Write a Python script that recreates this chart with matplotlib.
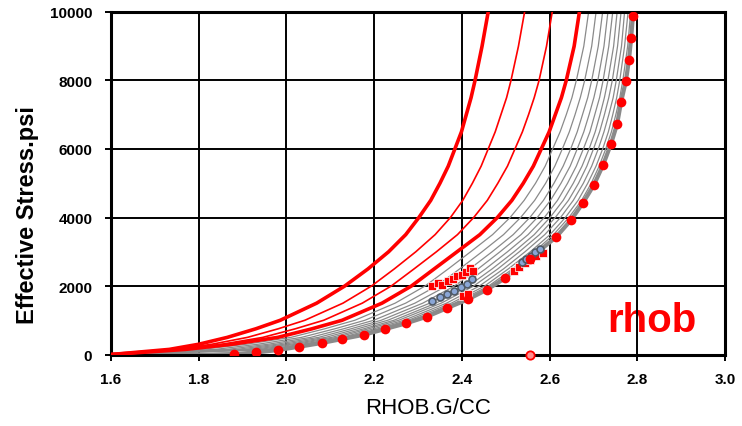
import matplotlib
matplotlib.use('Agg')
import matplotlib.pyplot as plt

# effective stress (psi) at which each model curve is read
STRESS = [0, 150, 300, 500, 750, 1000, 1500, 2000, 2500, 3000, 3500, 4000, 4500, 5000, 5500,
          6000, 6500, 7000, 7500, 8000, 9000, 10000]

RED_THICK_1 = [1.6, 1.733, 1.800, 1.865, 1.930, 1.986, 2.069, 2.133, 2.186, 2.233, 2.272, 2.302, 2.329, 2.350, 2.369,
               2.384, 2.399, 2.410, 2.421, 2.430, 2.446, 2.460]
RED_THIN_1 = [1.6, 1.748, 1.830, 1.911, 1.981, 2.042, 2.129, 2.194, 2.246, 2.295, 2.339, 2.374, 2.402, 2.424, 2.444,
              2.460, 2.476, 2.489, 2.502, 2.512, 2.529, 2.543]
RED_THIN_2 = [1.6, 1.759, 1.853, 1.946, 2.020, 2.085, 2.173, 2.239, 2.291, 2.342, 2.390, 2.427, 2.458, 2.482, 2.504,
              2.521, 2.538, 2.552, 2.565, 2.576, 2.593, 2.606]
RED_THICK_2 = [1.6, 1.770, 1.876, 1.980, 2.058, 2.127, 2.218, 2.285, 2.337, 2.389, 2.441, 2.481, 2.514, 2.540, 2.563,
               2.581, 2.599, 2.613, 2.627, 2.638, 2.656, 2.668]

GRAY_CURVES = [
    [1.6, 1.807, 1.908, 2.010, 2.087, 2.156, 2.248, 2.316, 2.369, 2.420, 2.470, 2.510, 2.542, 2.568, 2.590,
     2.607, 2.624, 2.638, 2.651, 2.661, 2.678, 2.689],
    [1.6, 1.838, 1.935, 2.034, 2.110, 2.179, 2.272, 2.342, 2.395, 2.446, 2.495, 2.534, 2.566, 2.591, 2.612,
     2.629, 2.645, 2.658, 2.670, 2.680, 2.696, 2.706],
    [1.6, 1.865, 1.958, 2.055, 2.130, 2.199, 2.293, 2.365, 2.418, 2.469, 2.517, 2.555, 2.586, 2.610, 2.631,
     2.648, 2.663, 2.675, 2.687, 2.696, 2.711, 2.721],
    [1.6, 1.887, 1.977, 2.073, 2.147, 2.216, 2.311, 2.383, 2.437, 2.487, 2.535, 2.572, 2.602, 2.626, 2.647,
     2.663, 2.678, 2.690, 2.701, 2.710, 2.724, 2.733],
    [1.6, 1.906, 1.994, 2.089, 2.162, 2.231, 2.327, 2.400, 2.454, 2.504, 2.551, 2.588, 2.618, 2.641, 2.661,
     2.677, 2.692, 2.703, 2.714, 2.722, 2.735, 2.744],
    [1.6, 1.924, 2.009, 2.103, 2.176, 2.245, 2.341, 2.415, 2.469, 2.519, 2.565, 2.601, 2.631, 2.654, 2.674,
     2.690, 2.704, 2.715, 2.725, 2.733, 2.746, 2.754],
    [1.6, 1.939, 2.022, 2.115, 2.187, 2.256, 2.353, 2.427, 2.482, 2.531, 2.577, 2.613, 2.643, 2.666, 2.685,
     2.700, 2.714, 2.725, 2.735, 2.743, 2.755, 2.763],
    [1.6, 1.955, 2.036, 2.127, 2.199, 2.268, 2.365, 2.440, 2.495, 2.544, 2.589, 2.625, 2.654, 2.677, 2.696,
     2.711, 2.724, 2.735, 2.745, 2.752, 2.764, 2.771],
    [1.6, 1.968, 2.047, 2.138, 2.209, 2.278, 2.376, 2.452, 2.506, 2.556, 2.601, 2.636, 2.665, 2.687, 2.706,
     2.721, 2.734, 2.744, 2.753, 2.760, 2.771, 2.779],
    [1.6, 1.979, 2.057, 2.146, 2.218, 2.287, 2.384, 2.461, 2.516, 2.565, 2.609, 2.644, 2.673, 2.695, 2.713,
     2.728, 2.741, 2.751, 2.760, 2.767, 2.778, 2.785],
]

# normal compaction trend (red dots on the thick grey line)
NCT_RHO = [1.6, 1.833, 1.881, 1.931, 1.980, 2.029, 2.080, 2.127, 2.177, 2.225, 2.273, 2.320, 2.365, 2.414,
           2.457, 2.498, 2.555, 2.615, 2.649, 2.676, 2.701, 2.722, 2.740, 2.754, 2.763, 2.774, 2.781, 2.786, 2.790]
NCT_STRESS = [0, 0, 15, 60, 130, 228, 336, 453, 578, 745, 911, 1104, 1349, 1612,
              1892, 2225, 2800, 3431, 3927, 4423, 4949, 5533, 6146, 6730, 7372, 7986, 8600, 9242, 9884]

# measured data
RED_PTS_RHO = [2.333, 2.345, 2.355, 2.368, 2.380, 2.390, 2.400, 2.410, 2.418, 2.425, 2.402, 2.415,
               2.518, 2.530, 2.543, 2.556, 2.570, 2.585]
RED_PTS_STRESS = [2000, 2080, 2020, 2150, 2200, 2280, 2330, 2400, 2520, 2450, 1700, 1760,
                  2450, 2560, 2660, 2770, 2880, 2960]
BLUE_PTS_RHO = [2.331, 2.350, 2.367, 2.382, 2.397, 2.411, 2.423, 2.536, 2.546, 2.557, 2.567, 2.578]
BLUE_PTS_STRESS = [1571, 1670, 1767, 1863, 1962, 2059, 2205, 2692, 2790, 2885, 2980, 3080]
OUTLIER_RHO = [2.555]
OUTLIER_STRESS = [0]

plt.rcParams['font.family'] = ['Liberation Sans', 'DejaVu Sans']

fig = plt.figure(figsize=(7.42, 4.27), dpi=100)
ax = fig.add_axes([0.1496, 0.1674, 0.8275, 0.8022])

for g in GRAY_CURVES:
    ax.plot(g, STRESS, color='#8a8a8a', lw=0.9, zorder=2)
ax.plot(NCT_RHO, NCT_STRESS, color='#8a8a8a', lw=3.0, zorder=2)

ax.plot(RED_THIN_1, STRESS, color='red', lw=1.2, zorder=3)
ax.plot(RED_THIN_2, STRESS, color='red', lw=1.2, zorder=3)
ax.plot(RED_THICK_1, STRESS, color='red', lw=2.6, zorder=3)
ax.plot(RED_THICK_2, STRESS, color='red', lw=2.6, zorder=3)

ax.plot(NCT_RHO[2:], NCT_STRESS[2:], ls='none', marker='o', ms=7, color='red', mec='none', zorder=5)

ax.plot(RED_PTS_RHO, RED_PTS_STRESS, ls='none', marker='s', ms=5.5, mfc='red', mec='white', mew=0.5, zorder=4)
ax.plot(BLUE_PTS_RHO, BLUE_PTS_STRESS, ls='none', marker='o', ms=5, mfc='#8aa6d6', mec='#505a66', mew=1.2, zorder=4)
ax.plot(OUTLIER_RHO, OUTLIER_STRESS, ls='none', marker='o', ms=6, mfc='#ff9090', mec='red', mew=1.3,
        zorder=6, clip_on=False)

ax.set_xlim(1.6, 3.0)
ax.set_ylim(0, 10000)
ax.set_xticks([1.6, 1.8, 2.0, 2.2, 2.4, 2.6, 2.8, 3.0])
ax.set_xticklabels(['1.6', '1.8', '2.0', '2.2', '2.4', '2.6', '2.8', '3.0'])
ax.set_yticks([0, 2000, 4000, 6000, 8000, 10000])
ax.grid(True, color='black', lw=1.4)
ax.set_axisbelow(True)
for s in ax.spines.values():
    s.set_linewidth(2.2)
ax.tick_params(axis='x', length=4.5, width=1.4, pad=8, labelsize=11)
ax.tick_params(axis='y', length=4.5, width=1.4, pad=9, labelsize=11)
for lab in ax.get_xticklabels() + ax.get_yticklabels():
    lab.set_fontweight('bold')

ax.set_xlabel('RHOB.G/CC', fontsize=16, labelpad=8)
ax.xaxis.set_label_coords(0.516, -0.125)
ax.set_ylabel('Effective Stress.psi', fontsize=17, fontweight='bold')
ax.yaxis.set_label_coords(-0.118, 0.41)

ax.text(0.8806, 0.0695, 'rhob', transform=ax.transAxes, color='red', fontsize=29,
        fontweight='bold', ha='center', va='baseline', zorder=0.3)

fig.savefig('out.png', dpi=100)
